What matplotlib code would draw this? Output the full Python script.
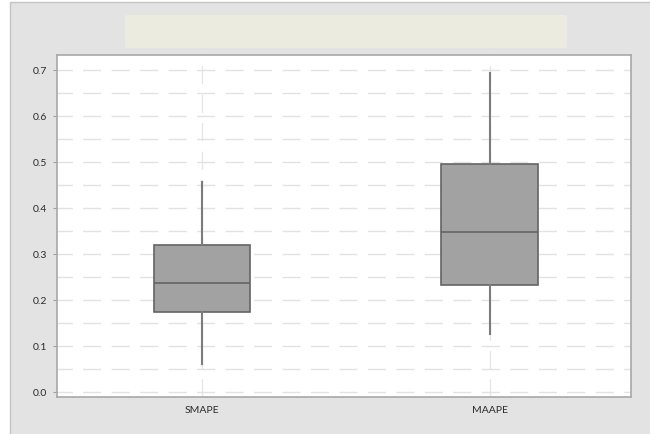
import matplotlib.pyplot as plt
from matplotlib.patches import Rectangle, FancyBboxPatch
from matplotlib.ticker import MultipleLocator

# andmed (loetud pildilt)
categories = ["SMAPE", "MAAPE"]
whisker_low = [0.061, 0.126]
q1 = [0.173, 0.231]
medians = [0.236, 0.347]
q3 = [0.318, 0.495]
whisker_high = [0.455, 0.692]
y_ticks = [0.0, 0.1, 0.2, 0.3, 0.4, 0.5, 0.6, 0.7]

plt.rcParams['font.family'] = ['Lato', 'DejaVu Sans']

fig = plt.figure(figsize=(6.5, 4.35), dpi=100, facecolor='white')

# hall taust ja pealkirja kast
fig.patches.append(Rectangle((10 / 650, -0.01), 1, 1.01 - 3 / 435, transform=fig.transFigure,
                             facecolor='#e3e3e3', edgecolor='#c4c4c4', linewidth=1, zorder=-2))
fig.patches.append(FancyBboxPatch((125 / 650, 1 - 49 / 435), 442 / 650, 33 / 435,
                                  boxstyle='round,pad=0,rounding_size=0.004',
                                  transform=fig.transFigure, facecolor='#ecebe0',
                                  edgecolor='none', zorder=-1))

ax = fig.add_axes([57 / 650, 1 - 398 / 435, 574 / 650, 342.5 / 435])
ax.set_facecolor('white')

stats = []
for i, name in enumerate(categories):
    stats.append({'label': name, 'whislo': whisker_low[i], 'q1': q1[i], 'med': medians[i],
                  'q3': q3[i], 'whishi': whisker_high[i], 'fliers': []})

ax.bxp(stats, positions=[1, 2], widths=0.335, patch_artist=True, showcaps=False,
       boxprops=dict(facecolor='#a2a2a2', edgecolor='#646464', linewidth=1.2),
       medianprops=dict(color='#646464', linewidth=1.2),
       whiskerprops=dict(color='#7c7c7c', linewidth=1.5), zorder=3)

ax.set_xlim(0.496, 2.492)
ax.set_ylim(-0.0118, 0.733)

ax.set_yticks(y_ticks)
ax.set_yticklabels([f"{v:.1f}" for v in y_ticks])
ax.yaxis.set_minor_locator(MultipleLocator(0.05))

ax.grid(True, axis='y', which='both', color='#e2e2e2', linestyle=(2, (13, 7.5)), linewidth=1.0, zorder=0)
ax.grid(True, axis='x', which='major', color='#e6e6e6', linestyle=(0, (13, 7.5)), linewidth=1.0, zorder=0)
ax.set_axisbelow(True)

ax.tick_params(axis='y', which='major', length=3, width=0.8, color='#a0a0a0',
               labelsize=7.5, labelcolor='#2a2a2a', pad=4)
ax.tick_params(axis='y', which='minor', length=0)
ax.tick_params(axis='x', length=0, labelsize=7.5, labelcolor='#2a2a2a', pad=6)

for s in ax.spines.values():
    s.set_color('#a8a8a8')
    s.set_linewidth(1.2)

plt.savefig('out.png', dpi=100, facecolor=fig.get_facecolor())
